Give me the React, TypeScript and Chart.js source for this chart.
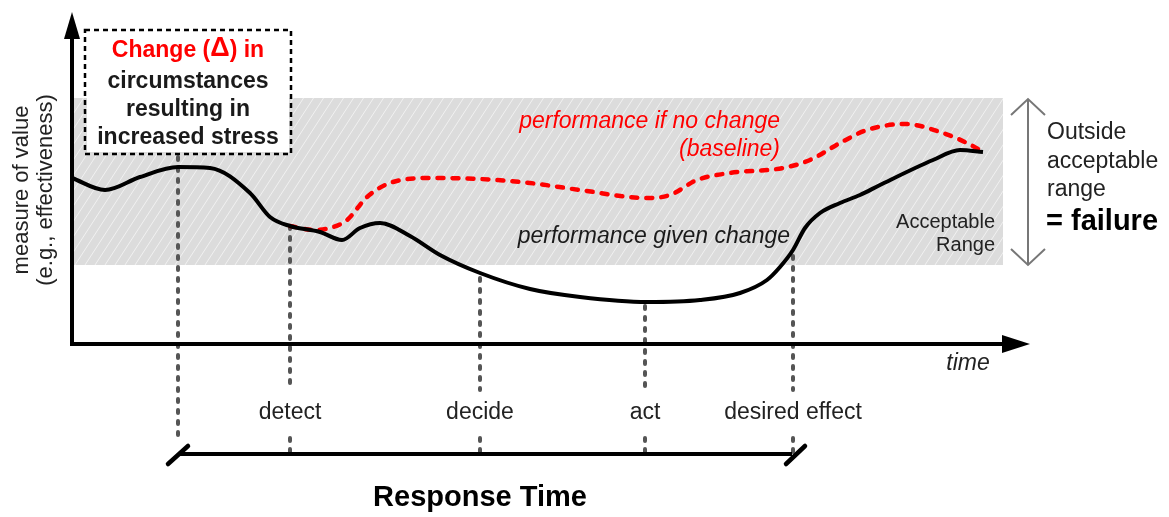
import { useEffect, useRef } from 'react';
import { Chart, registerables } from 'chart.js';
Chart.register(...registerables);

// time (x) and measure of value (y) in diagram units
const timeGiven = [0, 33, 68, 106, 138, 178, 198, 218, 248, 270, 288, 308, 338, 368, 408, 458, 508, 575, 628, 668, 695, 708, 721, 733, 748, 768, 788, 808, 861, 888, 911];
const perfGiven = [166, 154, 167, 177, 176, 151, 127, 118, 112, 104, 116, 121, 108, 89, 71, 55, 47, 42, 44, 51, 64, 77, 94, 116, 131, 141, 149, 159, 184, 194, 192];
const timeBaseline = [218, 243, 258, 275, 295, 318, 358, 408, 458, 508, 575, 598, 625, 658, 711, 738, 768, 795, 833, 871, 895, 908];
const perfBaseline = [118, 114, 116, 124, 147, 161, 166, 165, 161, 154, 146, 149, 164, 171, 176, 184, 201, 214, 220, 211, 201, 194];

const eventTimes = [106, 218, 408, 573, 721];
const eventTops = [189, 118, 66, 38, 88];
const eventLabels = ['', 'detect', 'decide', 'act', 'desired effect'];

const bandLow = 79;
const bandHigh = 246;
const bandEnd = 931;
const axisTimeMax = 958;
const axisValueMax = 332;
const bracketStart = 97;
const bracketEnd = 728;
const bracketLevel = -110;

const FONT = '"Liberation Sans", Arial, sans-serif';

const diagramPlugin = {
  id: 'diagram',
  beforeDatasetsDraw(chart: any) {
    const { ctx, scales } = chart;
    const px = (t: number) => scales.x.getPixelForValue(t);
    const py = (v: number) => scales.y.getPixelForValue(v);
    // acceptable band
    const x0 = px(0), x1 = px(bandEnd), y0 = py(bandHigh), y1 = py(bandLow);
    ctx.save();
    ctx.fillStyle = '#dcdcdc';
    ctx.fillRect(x0, y0, x1 - x0, y1 - y0);
    ctx.beginPath();
    ctx.rect(x0, y0, x1 - x0, y1 - y0);
    ctx.clip();
    ctx.strokeStyle = 'rgba(255,255,255,0.6)';
    ctx.lineWidth = 1;
    const h = y1 - y0;
    for (let x = x0 - h; x < x1 + h; x += 10) {
      ctx.beginPath();
      ctx.moveTo(x, y1);
      ctx.lineTo(x + h * 0.65, y0);
      ctx.stroke();
    }
    ctx.restore();

    // dashed event lines
    ctx.save();
    ctx.strokeStyle = '#555';
    ctx.lineWidth = 4;
    ctx.lineCap = 'round';
    ctx.setLineDash([3, 8]);
    eventTimes.forEach((t, i) => {
      const x = px(t);
      ctx.beginPath();
      if (i === 0) {
        ctx.moveTo(x, py(eventTops[i]) + 2);
        ctx.lineTo(x, py(bracketLevel) - 12);
      } else {
        ctx.moveTo(x, py(eventTops[i]));
        ctx.lineTo(x, 390);
        ctx.moveTo(x, 438);
        ctx.lineTo(x, py(bracketLevel) + 2);
      }
      ctx.stroke();
    });
    ctx.restore();
  },
  afterDatasetsDraw(chart: any) {
    const { ctx, scales } = chart;
    const px = (t: number) => scales.x.getPixelForValue(t);
    const py = (v: number) => scales.y.getPixelForValue(v);
    const ox = px(0), oy = py(0);
    const text = (s: string, x: number, y: number, font: string, color: string, align: CanvasTextAlign = 'center') => {
      ctx.font = font;
      ctx.fillStyle = color;
      ctx.textAlign = align;
      ctx.textBaseline = 'middle';
      ctx.fillText(s, x, y);
    };
    ctx.save();
    // axes
    ctx.strokeStyle = '#000';
    ctx.fillStyle = '#000';
    ctx.lineWidth = 4;
    ctx.setLineDash([]);
    ctx.beginPath();
    ctx.moveTo(ox, oy + 2);
    ctx.lineTo(ox, py(axisValueMax) + 20);
    ctx.moveTo(ox - 2, oy);
    ctx.lineTo(px(axisTimeMax) - 24, oy);
    ctx.stroke();
    ctx.beginPath();
    ctx.moveTo(ox, py(axisValueMax));
    ctx.lineTo(ox - 8, py(axisValueMax) + 27);
    ctx.lineTo(ox + 8, py(axisValueMax) + 27);
    ctx.closePath();
    ctx.fill();
    ctx.beginPath();
    ctx.moveTo(px(axisTimeMax), oy);
    ctx.lineTo(px(axisTimeMax) - 28, oy - 9);
    ctx.lineTo(px(axisTimeMax) - 28, oy + 9);
    ctx.closePath();
    ctx.fill();

    // bracket
    const by = py(bracketLevel);
    const bx0 = px(bracketStart), bx1 = px(bracketEnd);
    ctx.lineWidth = 4;
    ctx.beginPath();
    ctx.moveTo(bx0 + 10, by);
    ctx.lineTo(bx1 - 8, by);
    ctx.stroke();
    ctx.lineCap = 'round';
    ctx.lineWidth = 4.5;
    ctx.beginPath();
    ctx.moveTo(bx0 - 1, by + 10);
    ctx.lineTo(bx0 + 19, by - 8);
    ctx.moveTo(bx1 - 14, by + 10);
    ctx.lineTo(bx1 + 5, by - 8);
    ctx.stroke();
    ctx.lineCap = 'butt';

    // change box
    ctx.lineWidth = 2.5;
    ctx.setLineDash([5, 4]);
    ctx.strokeRect(85, 30, 206, 124);
    ctx.setLineDash([]);
    ctx.fillStyle = '#fff';
    ctx.fillRect(87, 32, 202, 120);
    // "Change (Δ) in" with a larger delta
    {
      const f = `bold 23px ${FONT}`;
      const fd = `bold 27px ${FONT}`;
      ctx.font = f;
      const a = 'Change (', c = ') in';
      const wa = ctx.measureText(a).width, wc = ctx.measureText(c).width;
      ctx.font = fd;
      const wb = ctx.measureText('Δ').width;
      let x = 188 - (wa + wb + wc) / 2;
      text(a, x, 51, f, '#ff0000', 'left');
      x += wa;
      text('Δ', x, 49, fd, '#ff0000', 'left');
      x += wb;
      text(c, x, 51, f, '#ff0000', 'left');
    }
    text('circumstances', 188, 82, `bold 23px ${FONT}`, '#1a1a1a');
    text('resulting in', 188, 110, `bold 23px ${FONT}`, '#1a1a1a');
    text('increased stress', 188, 138, `bold 23px ${FONT}`, '#1a1a1a');

    // y axis title
    ctx.save();
    ctx.translate(22, 190);
    ctx.rotate(-Math.PI / 2);
    text('measure of value', 0, 0, `22px ${FONT}`, '#222');
    text('(e.g., effectiveness)', 0, 24, `22px ${FONT}`, '#222');
    ctx.restore();

    // curve labels
    text('performance if no change', 780, 122, `italic 23px ${FONT}`, '#ff0000', 'right');
    text('(baseline)', 780, 150, `italic 23px ${FONT}`, '#ff0000', 'right');
    text('performance given change', 790, 237, `italic 23px ${FONT}`, '#1a1a1a', 'right');
    text('Acceptable', 995, 222, `20px ${FONT}`, '#222', 'right');
    text('Range', 995, 245, `20px ${FONT}`, '#222', 'right');
    text('time', 968, 364, `italic 23px ${FONT}`, '#222');

    // event labels
    eventTimes.forEach((t, i) => {
      if (eventLabels[i]) text(eventLabels[i], px(t), 413, `23px ${FONT}`, '#222');
    });
    text('Response Time', 480, 498, `bold 29px ${FONT}`, '#000');

    // outside range arrow
    const ax = 1028, ay0 = py(bandHigh) + 1, ay1 = py(bandLow);
    ctx.strokeStyle = '#777';
    ctx.lineWidth = 2;
    ctx.beginPath();
    ctx.moveTo(ax, ay0);
    ctx.lineTo(ax, ay1);
    ctx.moveTo(ax - 17, ay0 + 16);
    ctx.lineTo(ax, ay0);
    ctx.lineTo(ax + 17, ay0 + 16);
    ctx.moveTo(ax - 17, ay1 - 16);
    ctx.lineTo(ax, ay1);
    ctx.lineTo(ax + 17, ay1 - 16);
    ctx.stroke();
    text('Outside', 1047, 133, `23px ${FONT}`, '#222', 'left');
    text('acceptable', 1047, 162, `23px ${FONT}`, '#222', 'left');
    text('range', 1047, 190, `23px ${FONT}`, '#222', 'left');
    text('= failure', 1046, 222, `bold 29px ${FONT}`, '#000', 'left');
    ctx.restore();
  },
};

export default function App() {
  const ref = useRef<HTMLCanvasElement>(null);
  useEffect(() => {
    document.body.style.margin = '0';
    const canvas = ref.current!;
    const chart = new Chart(canvas, {
      type: 'line',
      data: {
        datasets: [
          {
            label: 'performance given change',
            data: timeGiven.map((t, i) => ({ x: t, y: perfGiven[i] })),
            borderColor: '#000',
            borderWidth: 4,
            pointRadius: 0,
            cubicInterpolationMode: 'monotone',
            fill: false,
          },
          {
            label: 'performance if no change',
            data: timeBaseline.map((t, i) => ({ x: t, y: perfBaseline[i] })),
            borderColor: '#ff0000',
            borderWidth: 4.5,
            borderDash: [6, 9],
            borderCapStyle: 'round',
            pointRadius: 0,
            cubicInterpolationMode: 'monotone',
            fill: false,
          },
        ],
      },
      options: {
        animation: false,
        responsive: false,
        maintainAspectRatio: false,
        events: [],
        layout: { padding: 0 },
        plugins: { legend: { display: false }, tooltip: { enabled: false } },
        scales: {
          x: { type: 'linear', min: -72, max: 1097, display: false },
          y: { type: 'linear', min: -173, max: 344, display: false },
        },
      },
      plugins: [diagramPlugin],
    } as any);
    return () => chart.destroy();
  }, []);
  return (
    <div style={{ width: 1169, height: 517 }}>
      <canvas ref={ref} width={1169} height={517} style={{ display: 'block' }} />
    </div>
  );
}
